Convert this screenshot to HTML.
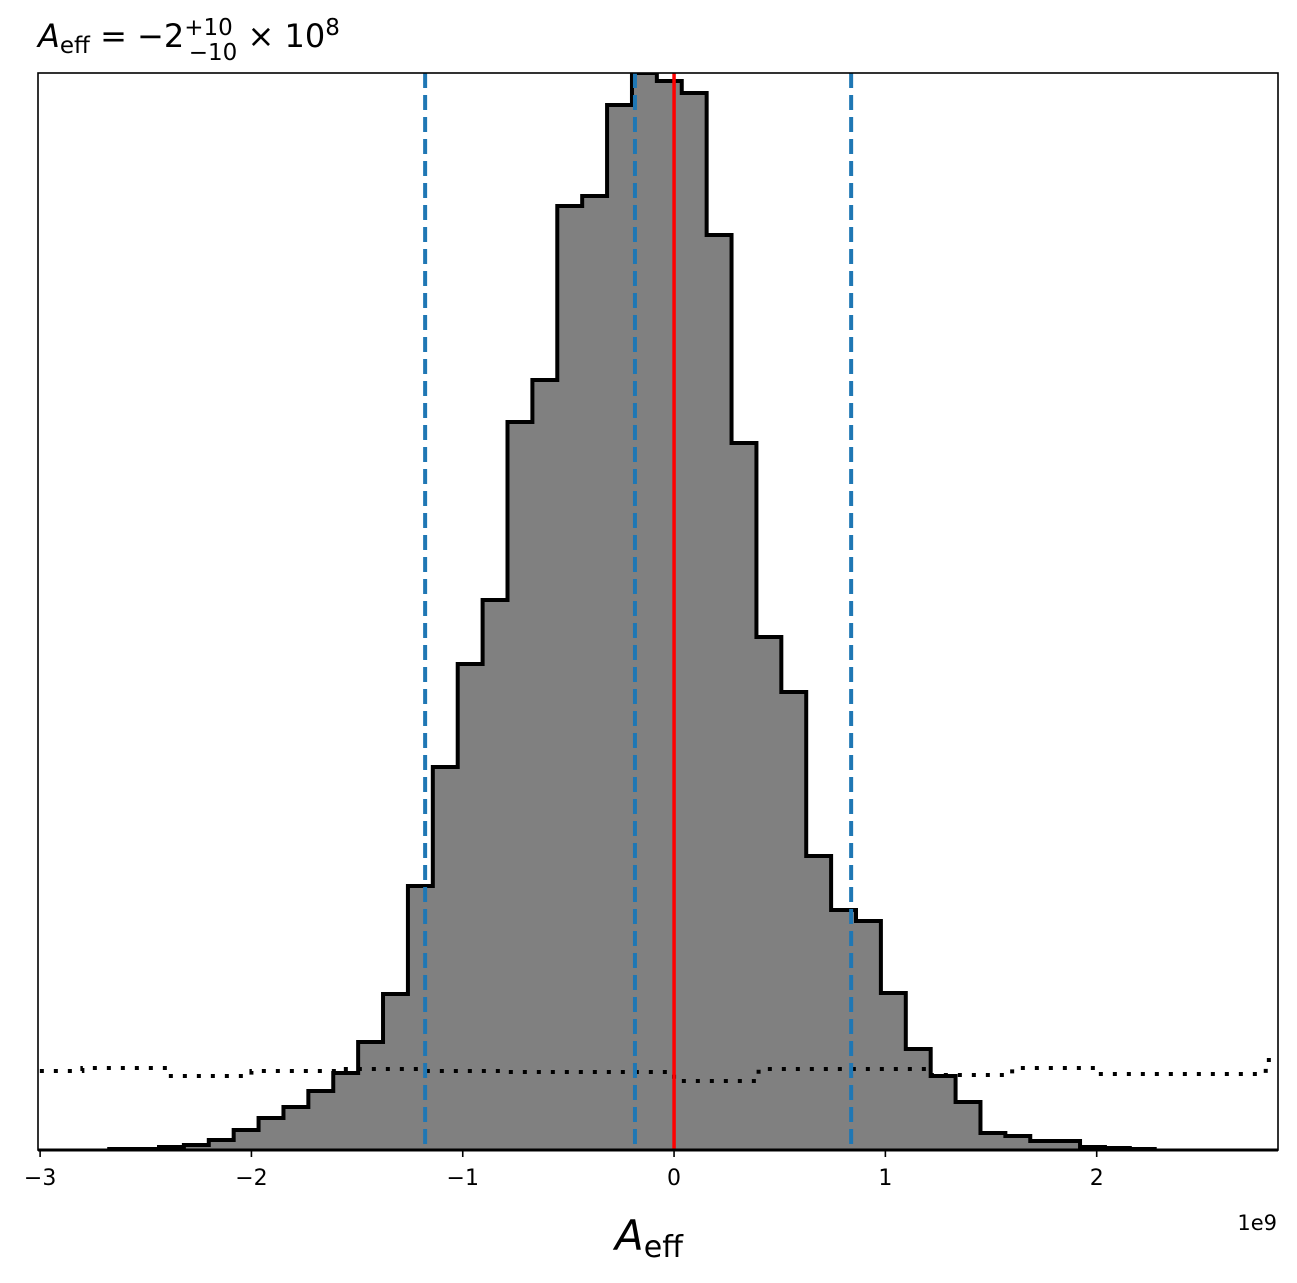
<!DOCTYPE html>
<html><head><meta charset="utf-8"><style>
body{margin:0;background:#fff;}
svg text{font-family:"DejaVu Sans","Liberation Sans",sans-serif;}
</style></head><body>
<svg id="chart" width="1297" height="1278" xmlns="http://www.w3.org/2000/svg">
<rect width="1297" height="1278" fill="#fff"/>
<g id="plot"></g>
<text x="38" y="47" font-size="32" fill="#000"><tspan font-style="italic">A</tspan><tspan font-size="23" dy="6">eff</tspan><tspan dy="-6"> = −2</tspan><tspan font-size="23" dy="-12">+10</tspan><tspan font-size="23" dx="-44" dy="25">−10</tspan><tspan dy="-13"> × 10</tspan><tspan font-size="23" dy="-12">8</tspan></text>
<text x="615" y="1250" font-size="42" fill="#000"><tspan font-style="italic">A</tspan><tspan font-size="30" dy="7">eff</tspan></text>
<text x="1277" y="1230" font-size="21" text-anchor="end" fill="#000">1e9</text>
</svg>
<script>
const binStart = -2.673;
const binWidth = 0.1178;
const counts = [1,1,3,5,10,20,32,43,59,77,108,156,264,383,486,550,728,770,944,954,1045,1077,1069,1057,915,707,513,458,294,240,229,157,101,74,48,17,14,9,9,3,2,1];
const priorEdges = [-3.2,-2.8,-2.4,-2.0,-1.6,-1.2,-0.8,-0.4,0,0.4,0.8,1.2,1.6,2.0,2.4,2.8,3.2];
const priorCounts = [79,82,74,79,81,79,78,78,69,81,81,75,82,76,76,90];
const quantiles = [-1.178,-0.185,0.838];
const truthValue = 0;
const xTicks = [-3,-2,-1,0,1,2];
const xTickLabels = ["−3","−2","−1","0","1","2"];

const L=38,R=1278,T=73,B=1150;
const xMin=-3.01, xMax=2.858, yMax=1077;
const sx=v=>L+(v-xMin)/(xMax-xMin)*(R-L);
const sy=v=>B-v/yMax*(B-T);
const NS="http://www.w3.org/2000/svg";
const g=document.getElementById('plot');
function mk(t,a){const e=document.createElementNS(NS,t);for(const k in a)e.setAttribute(k,a[k]);g.appendChild(e);return e;}

const defs=mk('defs',{});
const cp=document.createElementNS(NS,'clipPath');cp.setAttribute('id','clip');
const cr=document.createElementNS(NS,'rect');cr.setAttribute('x',L);cr.setAttribute('y',T);cr.setAttribute('width',R-L);cr.setAttribute('height',B-T);
cp.appendChild(cr);defs.appendChild(cp);

let d=`M${sx(binStart)},${sy(0)}`;
counts.forEach((c,i)=>{const x0=sx(binStart+i*binWidth),x1=sx(binStart+(i+1)*binWidth);d+=` L${x0},${sy(c)} L${x1},${sy(c)}`;});
d+=` L${sx(binStart+counts.length*binWidth)},${sy(0)}`;
const fill=mk('path',{d:d+' Z',fill:'#808080',stroke:'none','clip-path':'url(#clip)'});


const step=mk('path',{d:d,fill:'none',stroke:'#000','stroke-width':4,'clip-path':'url(#clip)'});



let pd='';
priorCounts.forEach((c,i)=>{const x0=sx(priorEdges[i]),x1=sx(priorEdges[i+1]);pd+=(i?' L':'M')+`${x0},${sy(c)} L${x1},${sy(c)}`;});
const prior=mk('path',{d:pd,fill:'none',stroke:'#000','stroke-width':4,'stroke-dasharray':'4 10','clip-path':'url(#clip)'});



quantiles.forEach(q=>{
 const l=mk('line',{x1:sx(q),x2:sx(q),y1:T,y2:B,stroke:'#1f77b4','stroke-width':4,'stroke-dasharray':'15 7'});
 
 
});
const tl=mk('line',{x1:sx(truthValue),x2:sx(truthValue),y1:T,y2:B,stroke:'#ff0000','stroke-width':3.5});



const frame=mk('rect',{x:L,y:T,width:R-L,height:B-T,fill:'none',stroke:'#000','stroke-width':1.6});


const base=mk('line',{x1:L,x2:R,y1:B,y2:B,stroke:'#000','stroke-width':3});



xTicks.forEach((t,i)=>{
 const tk=mk('line',{x1:sx(t),x2:sx(t),y1:B,y2:B+7,stroke:'#000','stroke-width':1.6});
 
 
 const tx=mk('text',{x:sx(t),y:B+35,'font-size':22,'text-anchor':'middle',fill:'#000'});
 tx.textContent=xTickLabels[i];
 
 
});
</script>
</body></html>
